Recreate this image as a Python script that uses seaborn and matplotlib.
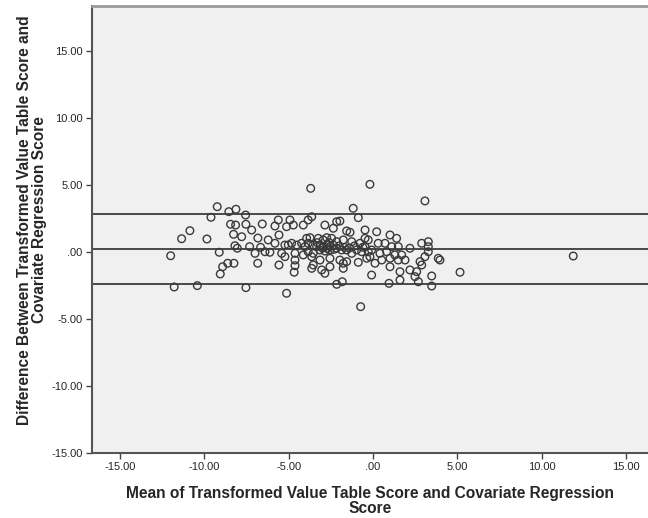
import matplotlib
matplotlib.use('Agg')
import matplotlib.pyplot as plt
import seaborn as sns
import pandas as pd
from matplotlib.ticker import FuncFormatter

# Bland-Altman points (mean, difference)
mean_score = [
    -11.99, -11.78, -11.34, -10.85, -10.41, -9.84, -9.60, -9.23, -9.11, -9.05,
    -8.91, -8.61, -8.54, -8.44, -8.26, -8.24, -8.12, -8.14, -8.18, -8.04,
    -7.78, -7.55, -7.53, -7.53, -7.31, -7.19, -6.99, -6.83, -6.82, -6.66,
    -6.56, -5.81, -5.61, -4.92, -5.12, -4.72, -4.13, -3.84, -6.21, -5.81,
    -5.57, -5.22, -5.02, -4.82, -4.52, -4.23, -3.93, -3.84, -4.03, -6.40,
    -6.11, -5.41, -5.22, -4.62, -4.62, -5.57, -4.62, -4.67, -4.13, -3.84,
    -5.12, -3.69, -1.17, -0.87, -0.18, -3.63, -2.85, -2.35, -2.15, -1.96,
    -1.56, -1.36, -0.47, -3.73, -3.24, -2.95, -2.74, -2.45, -2.15, -1.76,
    -1.26, -0.77, -0.47, -3.54, -3.34, -3.14, -2.95, -2.74, -2.55, -2.35,
    -2.15, -3.14, -2.85, -2.55, -3.54, -1.86, -1.56, -1.26, -0.97, -0.67,
    -0.28, -3.63, -3.14, -2.55, -1.96, -1.76, -1.56, -0.87, -0.37, -3.54,
    -2.55, -3.04, -2.85, -1.76, -3.63, -2.15, -1.82, -0.73, 3.08, 0.22,
    1.01, 1.40, -0.28, 0.31, 0.71, 1.11, 1.50, 2.19, 2.89, -0.47,
    -0.08, 0.41, 0.81, 1.30, 1.70, -0.18, 0.52, 1.01, 1.50, 1.90,
    2.79, 0.12, 1.01, 1.60, 2.19, 2.59, 2.89, -0.08, 1.60, 2.49,
    2.69, 0.95, 3.28, 3.28, 3.28, 3.08, 3.87, 3.97, 3.48, 3.48,
    5.16, 11.87, -3.00, -2.70, -2.30, -2.00, -1.70, -3.30, -2.60, -1.40,
    -1.10, -0.60,
]
diff_score = [
    -0.28, -2.61, 0.99, 1.59, -2.51, 0.97, 2.59, 3.38, -0.02, -1.64,
    -1.10, -0.84, 3.01, 2.07, 1.32, -0.84, 3.19, 2.01, 0.47, 0.28,
    1.14, 2.76, 2.07, -2.66, 0.40, 1.64, -0.10, -0.84, 1.04, 0.35,
    2.09, 1.94, 2.39, 2.39, 1.89, 2.01, 2.01, 2.39, 0.90, 0.65,
    1.27, 0.52, 0.52, 0.65, 0.52, 0.65, 1.02, 0.65, 0.40, 0.02,
    -0.02, -0.10, -0.35, -0.10, -0.60, -0.97, -1.02, -1.51, -0.22, 0.02,
    -3.08, 4.75, 3.26, 2.56, 5.05, 2.63, 2.01, 1.77, 2.26, 2.31,
    1.57, 1.47, 1.64, 1.07, 1.02, 0.90, 1.07, 1.02, 0.77, 0.90,
    0.77, 0.65, 1.02, 0.52, 0.40, 0.52, 0.40, 0.52, 0.40, 0.52,
    0.28, 0.15, 0.07, 0.15, -0.10, 0.15, 0.15, -0.10, 0.15, 0.02,
    0.02, -0.35, -0.60, -0.47, -0.60, -0.84, -0.72, -0.77, -0.47, -0.97,
    -1.10, -1.34, -1.59, -1.22, -1.22, -2.41, -2.22, -4.08, 3.81, 1.51,
    1.27, 1.02, 0.90, 0.65, 0.65, 0.40, 0.40, 0.28, 0.65, 0.40,
    0.15, -0.10, 0.02, -0.22, -0.22, -0.35, -0.60, -0.47, -0.60, -0.60,
    -0.72, -0.84, -1.10, -1.47, -1.34, -1.47, -0.97, -1.72, -2.09, -1.84,
    -2.22, -2.34, 0.77, 0.40, 0.02, -0.35, -0.47, -0.60, -1.79, -2.54,
    -1.51, -0.30, 0.30, 0.25, 0.20, 0.45, 0.35, 0.70, 0.70, 0.30,
    0.45, 0.35,
]

mean_diff = 0.23
upper_loa = 2.85
lower_loa = -2.39

x_ticks = [-15, -10, -5, 0, 5, 10, 15]
y_ticks = [-15, -10, -5, 0, 5, 10, 15]

df = pd.DataFrame({'mean': mean_score, 'diff': diff_score})

sns.set_style('white')
plt.rcParams['font.family'] = ['Liberation Sans', 'DejaVu Sans']

fig = plt.figure(figsize=(6.48, 5.18), dpi=100)
ax = fig.add_axes([0.1415, 0.1255, 0.8585, 0.8635])
ax.set_facecolor('#f0f0f0')

for yv in [upper_loa, mean_diff, lower_loa]:
    ax.axhline(yv, color='#3c3c3c', linewidth=1.3, zorder=1)

sns.scatterplot(data=df, x='mean', y='diff', ax=ax, marker='o',
                facecolor='none', edgecolor='#3a3a3a', linewidth=1.0,
                s=30, zorder=2)

ax.set_xlim(-16.67, 16.3)
ax.set_ylim(-15, 18.38)
ax.set_xticks(x_ticks)
ax.set_yticks(y_ticks)


def spss_fmt(v, pos):
    s = f'{v:.2f}'
    if s.startswith('0'):
        s = s[1:]
    if s.startswith('-0'):
        s = '-' + s[2:]
    return s


ax.xaxis.set_major_formatter(FuncFormatter(spss_fmt))
ax.yaxis.set_major_formatter(FuncFormatter(spss_fmt))
ax.tick_params(axis='both', which='major', labelsize=8, length=4,
               width=1, color='#444444', pad=2.5, direction='out',
               bottom=True, left=True)

for side in ['left', 'bottom']:
    ax.spines[side].set_color('#555555')
    ax.spines[side].set_linewidth(1.5)
ax.spines['top'].set_color('#9a9a9a')
ax.spines['top'].set_linewidth(2)
ax.spines['right'].set_visible(False)

ax.set_xlabel('Mean of Transformed Value Table Score and Covariate Regression\nScore',
              fontsize=11.2, fontweight='bold', linespacing=1.0)
ax.set_ylabel('Difference Between Transformed Value Table Score and\nCovariate Regression Score',
              fontsize=11.2, fontweight='bold', linespacing=1.0)
ax.xaxis.set_label_coords(0.5, -0.073)
ax.yaxis.set_label_coords(-0.080, 0.521)

plt.savefig('out.png', dpi=100)
